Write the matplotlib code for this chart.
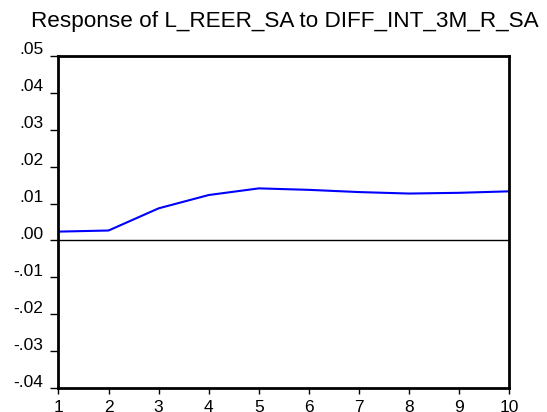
import matplotlib
matplotlib.use('Agg')
import matplotlib.pyplot as plt
import matplotlib.transforms as mtransforms

plt.rcParams['font.family'] = ['Liberation Sans', 'DejaVu Sans']

# impulse response of L_REER_SA, periods 1..10
periods = [1, 2, 3, 4, 5, 6, 7, 8, 9, 10]
response = [0.0024, 0.0027, 0.0087, 0.0123, 0.0141, 0.0137, 0.0131, 0.0127, 0.0129, 0.0133]

yticks = [-0.04, -0.03, -0.02, -0.01, 0.0, 0.01, 0.02, 0.03, 0.04, 0.05]
ylabels = ['-.04', '-.03', '-.02', '-.01', '.00', '.01', '.02', '.03', '.04', '.05']
title = 'Response of L_REER_SA to DIFF_INT_3M_R_SA'

fig = plt.figure(figsize=(5.47, 4.12), dpi=100)
ax = fig.add_axes([0.1069, 0.0575, 0.8241, 0.8073])

ax.axhline(0, color='black', lw=1.0)
ax.plot(periods, response, color='#0000ff', lw=1.5)

ax.set_xlim(1, 10)
ax.set_ylim(-0.04, 0.05)
ax.set_xticks(periods)
ax.set_xticklabels([str(p) for p in periods])
ax.set_yticks(yticks)
ax.set_yticklabels(ylabels)

for s in ax.spines.values():
    s.set_linewidth(2.0)
ax.tick_params(axis='y', direction='out', length=6, width=1.0, pad=5, labelsize=12.5)
ax.tick_params(axis='x', direction='out', length=4, width=1.0, pad=4.5, labelsize=12.5)

# y labels sit on top of their tick marks
shift = mtransforms.ScaledTranslation(0, 1 / 72, fig.dpi_scale_trans)
for lab in ax.get_yticklabels():
    lab.set_verticalalignment('baseline')
    lab.set_transform(lab.get_transform() + shift)

fig.text(0.52, 1 - 27.5 / 412, title, ha='center', va='baseline', fontsize=16.2)

fig.savefig('out.png', dpi=100)
